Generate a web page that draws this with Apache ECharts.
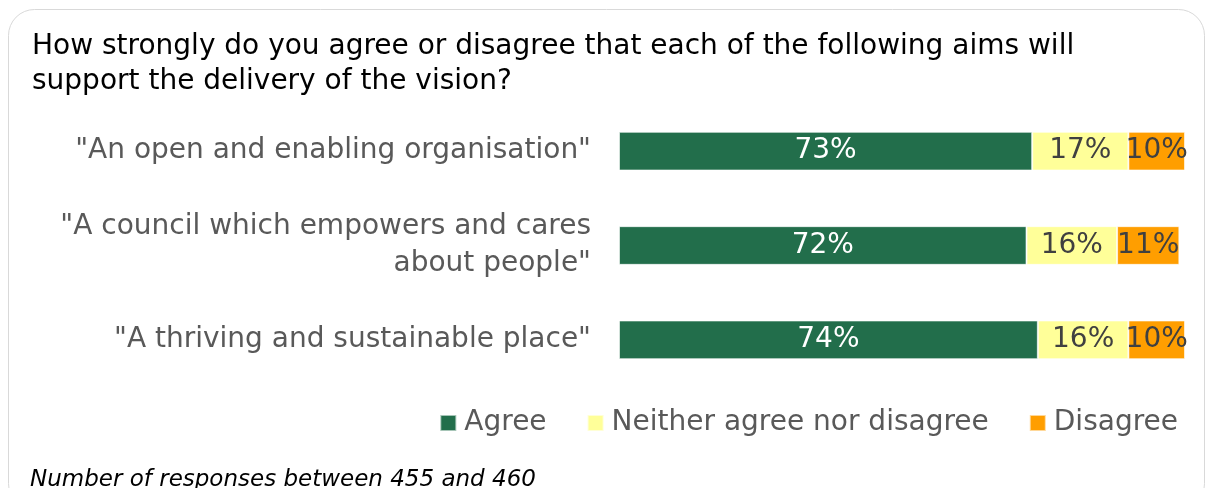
<!DOCTYPE html>
<html>
<head>
<meta charset="utf-8">
<script src="https://cdn.jsdelivr.net/npm/echarts@6/dist/echarts.min.js"></script>
<style>
  html, body { margin: 0; padding: 0; background: #ffffff; }
  #chart { width: 1206px; height: 488px; }
</style>
</head>
<body>
<div id="chart"></div>
<script>
// Survey aims, top to bottom
const categories = [
  '"An open and enabling organisation"',
  '"A council which empowers and cares\nabout people"',
  '"A thriving and sustainable place"'
];
const seriesNames = ['Agree', 'Neither agree nor disagree', 'Disagree'];
const agree = [73, 72, 74];
const neither = [17, 16, 16];
const disagree = [10, 11, 10];

const colors = ['#226e4b', '#ffff99', '#ff9e00'];
const labelColors = ['#ffffff', '#404040', '#404040'];
const font = '"DejaVu Sans", sans-serif';

const values = [agree, neither, disagree];

const chart = echarts.init(document.getElementById('chart'), null, { renderer: 'canvas' });

chart.setOption({
  backgroundColor: '#ffffff',
  animation: false,
  textStyle: { fontFamily: font },
  graphic: [
    {
      type: 'rect',
      shape: { x: 8.5, y: 9.5, width: 1196, height: 500, r: 26 },
      style: { fill: 'none', stroke: '#d9d9d9', lineWidth: 1 },
      silent: true,
      z: -10
    },
    {
      type: 'text',
      left: 30,
      top: 469,
      style: {
        text: 'Number of responses between 455 and 460',
        font: 'italic 23px ' + font,
        fill: '#000000'
      }
    }
  ],
  title: {
    text: 'How strongly do you agree or disagree that each of the following aims will\nsupport the delivery of the vision?',
    left: 27,
    top: 24,
    textStyle: {
      fontFamily: font,
      fontSize: 28,
      fontWeight: 'normal',
      color: '#000000',
      lineHeight: 35
    }
  },
  legend: {
    data: seriesNames,
    right: 23,
    top: 404,
    itemWidth: 16,
    itemHeight: 16,
    itemGap: 40,
    icon: 'rect',
    textStyle: { fontFamily: font, fontSize: 28, color: '#595959', padding: [0, 0, 0, 3] }
  },
  grid: {
    left: 619,
    right: 21,
    top: 104,
    bottom: 101,
    containLabel: false
  },
  xAxis: {
    type: 'value',
    min: 0,
    max: 100,
    show: false
  },
  yAxis: {
    type: 'category',
    inverse: true,
    data: categories,
    axisLine: { show: false },
    axisTick: { show: false },
    axisLabel: {
      fontFamily: font,
      fontSize: 28,
      color: '#595959',
      margin: 28,
      lineHeight: 37,
      align: 'right'
    }
  },
  series: seriesNames.map((name, i) => ({
    name: name,
    type: 'bar',
    stack: 'total',
    data: values[i],
    barWidth: '41%',
    itemStyle: { color: colors[i], borderColor: 'rgba(255,255,255,0.6)', borderWidth: 1 },
    label: {
      show: true,
      position: 'inside',
      formatter: p => p.value + '%',
      fontFamily: font,
      fontSize: 28,
      color: labelColors[i]
    }
  }))
});
</script>
</body>
</html>
